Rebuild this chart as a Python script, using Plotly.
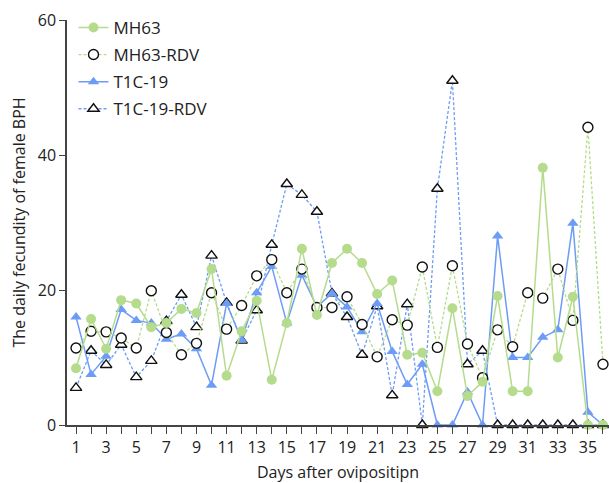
import plotly.graph_objects as go

days = list(range(1, 37))

mh63 = [8.4, 15.7, 11.3, 18.5, 18.0, 14.5, 15.1, 17.2, 16.6, 23.1, 7.3, 13.9,
        18.4, 6.7, 15.1, 26.1, 16.3, 24.0, 26.1, 24.0, 19.4, 21.4, 10.4, 10.7,
        5.0, 17.3, 4.3, 6.4, 19.1, 5.0, 5.0, 38.1, 10.0, 19.0, 0, 0]

mh63_rdv = [11.4, 13.9, 13.8, 12.9, 11.4, 19.9, 13.7, 10.4, 12.1, 19.6, 14.2, 17.7,
            22.1, 24.5, 19.6, 23.1, 17.4, 17.4, 19.0, 14.9, 10.1, 15.6, 14.8, 23.4,
            11.5, 23.6, 12.0, 7.0, 14.1, 11.6, 19.6, 18.8, 23.1, 15.5, 44.1, 9.0]

t1c19 = [16.0, 7.5, 10.2, 17.1, 15.5, 15.1, 12.7, 13.5, 11.3, 5.9, 18.0, 12.6,
         19.6, 23.5, 15.1, 22.2, 17.5, 19.5, 17.5, 13.8, 18.0, 10.9, 6.0, 9.0,
         0, 0, 4.9, 0, 28.0, 10.0, 10.0, 13.0, 14.1, 29.9, 1.9, 0]

t1c19_rdv = [5.5, 11.0, 8.9, 11.9, 7.1, 9.5, 15.4, 19.3, 14.5, 25.1, 18.1, 12.5,
             17.0, 26.7, 35.7, 34.1, 31.6, 19.5, 16.0, 10.4, 17.6, 4.4, 17.9, 0,
             35.0, 51.0, 9.0, 11.0, 0, 0, 0, 0, 0, 0, 0, 0]

x_tick_vals = list(range(1, 37))
x_tick_text = [str(d) if d % 2 == 1 else "" for d in x_tick_vals]
y_tick_vals = [0, 20, 40, 60]

GREEN = "#b5dc8c"
BLUE = "#6d9cf6"

fig = go.Figure()

fig.add_trace(go.Scatter(
    x=days, y=t1c19_rdv, name="T1C-19-RDV", mode="lines+markers", legendrank=4,
    legendgroup="d",
    line=dict(color=BLUE, width=1.3, dash="3px,2px"),
    marker=dict(symbol="triangle-up", size=10, color="white",
                line=dict(color="#111111", width=1.4)),
    cliponaxis=False))

fig.add_trace(go.Scatter(
    x=days, y=t1c19, name="T1C-19", mode="lines+markers", legendrank=3,
    legendgroup="c",
    line=dict(color=BLUE, width=1.5),
    marker=dict(symbol="triangle-up", size=10, color=BLUE),
    cliponaxis=False))

fig.add_trace(go.Scatter(
    x=days, y=mh63_rdv, name="MH63-RDV", mode="lines+markers", legendrank=2,
    legendgroup="b",
    line=dict(color=GREEN, width=1.3, dash="3px,2px"),
    marker=dict(symbol="circle", size=10, color="white",
                line=dict(color="#111111", width=1.4)),
    cliponaxis=False))

fig.add_trace(go.Scatter(
    x=days, y=mh63, name="MH63", mode="lines+markers", legendrank=1,
    legendgroup="a",
    line=dict(color=GREEN, width=1.5),
    marker=dict(symbol="circle", size=10, color=GREEN),
    cliponaxis=False))

fig.update_layout(
    width=609, height=483,
    margin=dict(l=67, r=0, t=20, b=58),
    paper_bgcolor="white", plot_bgcolor="white",
    font=dict(family="Open Sans, Noto Sans, sans-serif", size=15, color="#222222"),
    showlegend=True,
    legend=dict(x=0.012, y=1.025, xanchor="left", yanchor="top",
                bgcolor="rgba(0,0,0,0)", font=dict(size=17),
                tracegroupgap=2, itemwidth=30),
)

fig.update_xaxes(
    range=[0.4, 36.4], tickmode="array", tickvals=x_tick_vals, ticktext=x_tick_text,
    ticks="outside", ticklen=7, tickwidth=1.3, tickcolor="#444444",
    showline=True, linecolor="#444444", linewidth=1.5, showgrid=False, zeroline=False,
    tickfont=dict(size=16), automargin=False,
    title=dict(text="Days after ovipositipn", font=dict(size=16), standoff=18),
)

fig.update_yaxes(
    range=[0, 60], tickmode="array", tickvals=y_tick_vals,
    ticks="outside", ticklen=6, tickwidth=1.3, tickcolor="#444444",
    showline=True, linecolor="#444444", linewidth=1.5, showgrid=False, zeroline=False,
    tickfont=dict(size=16), automargin=False,
    title=dict(text="The daily fecundity of female BPH", font=dict(size=16), standoff=8),
)

fig.write_html("out.html", config={"displayModeBar": False},
               post_script="document.body.style.margin='0';document.body.style.overflow='hidden';")
